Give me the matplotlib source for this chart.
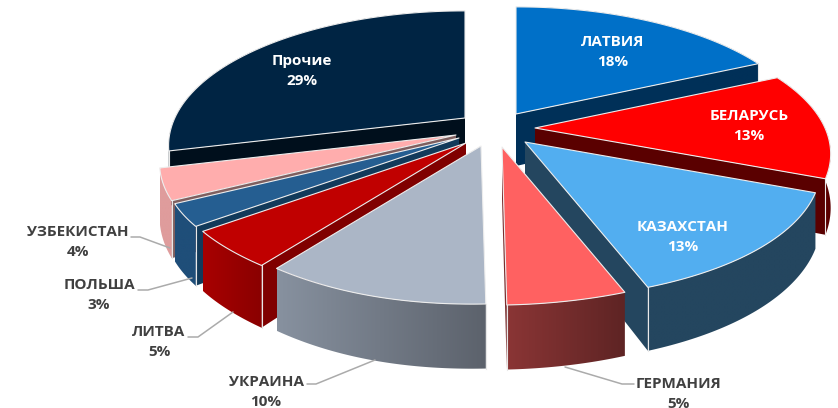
import numpy as np
import matplotlib
matplotlib.use("Agg")
import matplotlib.pyplot as plt
from matplotlib.colors import to_rgb
from matplotlib.patches import Polygon

plt.rcParams["font.family"] = ["Open Sans", "DejaVu Sans"]

# data
labels = ["ЛАТВИЯ", "БЕЛАРУСЬ", "КАЗАХСТАН", "ГЕРМАНИЯ", "УКРАИНА",
          "ЛИТВА", "ПОЛЬША", "УЗБЕКИСТАН", "Прочие"]
values = [18, 13, 13, 5, 10, 5, 3, 4, 29]

# style per slice
top_colors = ["#0070C8", "#FF0000", "#52AEF0", "#FF6161", "#ABB6C6",
              "#C00000", "#255E91", "#FFADAD", "#002443"]
radial_colors = ["#003058", "#5A0000", "#24465F", "#7A3030", "#87919F",
                 "#800000", "#123A5A", "#7F5F5F", "#000F1C"]
# wall colours, screen left then screen right
wall_left = ["#003058", "#7A0000", "#24465F", "#8A3535", "#87919F",
             "#A80000", "#1F4E79", "#DF9C9C", "#000F1C"]
wall_right = ["#003058", "#5A0000", "#24465F", "#5E2424", "#5C626C",
              "#8A0000", "#1F4E79", "#DF9C9C", "#000F1C"]
# where each slice's tip sits after the explosion (pixels)
apex = [(516, 114), (535, 128), (525, 142), (502, 147), (481, 146),
        (466, 143), (459, 138), (456, 135), (465, 118)]
text_pos = [(613, 42), (749, 116), (683, 227), (678, 384), (266, 382),
            (159, 332), (99, 285), (78, 232), (302, 61)]
text_white = [True, True, True, False, False, False, False, False, True]
leaders = {
    3: [(565, 367), (622, 384), (634, 384)],
    4: [(375, 360), (316, 384), (307, 384)],
    5: [(233, 312), (198, 337), (188, 337)],
    6: [(192, 278), (148, 290), (138, 290)],
    7: [(170, 248), (140, 237), (131, 237)],
}
draw_order = [8, 7, 6, 5, 4, 0, 1, 2, 3]

RX, RY = 290, 128   # ellipse radii
PERSP = 0.195       # far side is smaller than near side
DEPTH = 52          # pie thickness
SHEAR = 24          # near rim leans left in the source picture
LIFT = 7            # and sits a little higher at lower left


def rim(i, theta, drop=0.0):
    deg = np.degrees(theta)
    s = 1 / (1 + PERSP * np.cos(theta))
    lean = SHEAR * np.exp(-((deg - 195) / 34) ** 2)
    lift = LIFT * np.exp(-((deg - 215) / 25) ** 2)
    x = apex[i][0] + RX * np.sin(theta) * s - lean
    y = apex[i][1] - RY * np.cos(theta) * s + drop * DEPTH * s - lift
    return np.column_stack([x, y])


fig = plt.figure(figsize=(8.38, 4.08), dpi=100)
ax = fig.add_axes([0, 0, 1, 1])

edges = np.radians(np.concatenate([[0], np.cumsum(values)]) * 3.6)
z = 1

for i in draw_order:
    t0, t1 = edges[i], edges[i + 1]
    ts = np.linspace(t0, t1, 61)
    tip = np.array(apex[i], dtype=float)
    tip_low = tip + [0, DEPTH]

    # radial face, whichever one looks at the viewer
    t_face = t1 if t1 < np.pi else t0
    if t1 < np.pi or t0 > np.pi:
        face = np.vstack([tip, rim(i, t_face), rim(i, t_face, 1), tip_low])
        ax.add_patch(Polygon(face, fc=radial_colors[i], ec="none", zorder=z))
    z += 1

    # outer wall with a left to right gradient
    wall = np.vstack([rim(i, ts), rim(i, ts, 1)[::-1]])
    ramp = np.linspace(to_rgb(wall_left[i]), to_rgb(wall_right[i]), 64)[None, :, :]
    im = ax.imshow(ramp, extent=(wall[:, 0].min(), wall[:, 0].max(),
                                 wall[:, 1].max(), wall[:, 1].min()),
                   aspect="auto", interpolation="bilinear", zorder=z)
    im.set_clip_path(Polygon(wall, transform=ax.transData))
    z += 1

    # light corner line on the wall
    corner = rim(i, t_face)
    corner_low = rim(i, t_face, 1)
    ax.plot([corner[0, 0], corner_low[0, 0]], [corner[0, 1], corner_low[0, 1]],
            color="#E8E8E8", lw=0.8, zorder=z)
    z += 1

    top = np.vstack([tip, rim(i, ts)])
    ax.add_patch(Polygon(top, fc=top_colors[i], ec="#EDEDED", lw=0.8, zorder=z,
                         joinstyle="round"))
    z += 1

for i, pts in leaders.items():
    xs, ys = zip(*pts)
    ax.plot(xs, ys, color="#ABABAB", lw=1.1, zorder=z, solid_capstyle="round")

for i, name in enumerate(labels):
    col = "#FFFFFF" if text_white[i] else "#404040"
    x, y = text_pos[i]
    ax.text(x, y, name, color=col, fontsize=11, fontweight="bold",
            ha="center", va="center", zorder=z + 1)
    ax.text(x, y + 20, f"{values[i]}%", color=col, fontsize=11, fontweight="bold",
            ha="center", va="center", zorder=z + 1)

ax.set_xlim(0, 838)
ax.set_ylim(408, 0)
ax.axis("off")

fig.savefig("out.png", dpi=100, facecolor="white")
